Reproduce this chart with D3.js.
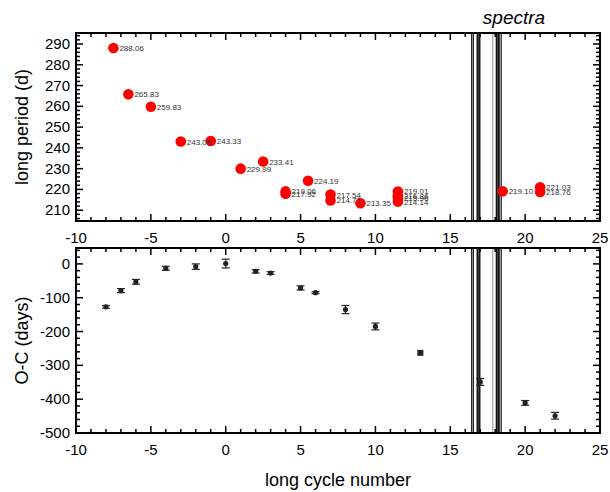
<!DOCTYPE html>
<html>
<head>
<meta charset="utf-8">
<script src="https://cdn.jsdelivr.net/npm/d3@7"></script>
<style>
  body { margin: 0; background: #fff; }
  text { font-family: "Liberation Sans", Arial, sans-serif; }
</style>
</head>
<body>
<script>
// screen size
var w = 610;
var h = 492;

// top panel: long period per cycle
var periodCycle = [-7.5, -6.5, -5, -3, -1, 1, 2.5, 4, 4, 5.5, 7, 7, 9, 11.5, 11.5, 11.5, 11.5, 18.5, 21, 21];
var periodDays  = [288.06, 265.83, 259.83, 243.06, 243.33, 229.99, 233.41, 219.06, 217.92, 224.19,
                   217.54, 214.71, 213.35, 219.01, 216.86, 215.96, 214.14, 219.10, 221.03, 218.76];

// bottom panel: O-C residuals
var ocCycle = [-8, -7, -6, -4, -2, 0, 2, 3, 5, 6, 8, 10, 13, 17, 20, 22];
var ocDays  = [-127, -79, -53, -13, -8, 1, -22, -27, -71, -85, -135, -185, -263, -349, -411, -449];
var ocErr   = [4, 6, 7, 6, 8, 13, 5, 4, 6, 3, 12, 10, 0, 10, 7, 10];

// spectra epochs (vertical lines), cycle number and line width
var spectraCycle = [16.43, 16.54, 16.82, 16.95, 17.84, 18.10, 18.24, 18.40];
var spectraWidth = [1.2, 1.2, 2, 2, 0.8, 2, 2, 1.2];

var xTicks = [-10, -5, 0, 5, 10, 15, 20, 25];
var periodTicks = [210, 220, 230, 240, 250, 260, 270, 280, 290];
var ocTicks = [0, -100, -200, -300, -400, -500];

var svg = d3.select("body").append("svg")
  .attr("width", w)
  .attr("height", h);

var left = 76, right = 600;
var x = d3.scaleLinear().domain([-10, 25]).range([left, right]);
var yTop = d3.scaleLinear().domain([204.8, 295.3]).range([221, 33]);
var yBot = d3.scaleLinear().domain([-500, 47]).range([433, 248]);

// draws ticks + frame for one panel
var drawFrame = function(y, yMajor, yMinorStep, labelY) {
  var g = svg.append("g");
  var y0 = y.range()[0], y1 = y.range()[1];
  var xMinor = d3.range(-10, 25.01, 1);
  var yd = y.domain();
  var yMinor = d3.range(Math.ceil(yd[0] / yMinorStep) * yMinorStep, yd[1], yMinorStep);

  // x ticks on bottom and top (inward)
  xMinor.forEach(function(v) {
    var major = v % 5 === 0;
    var len = major ? 7 : 4;
    g.append("line").attr("x1", x(v)).attr("x2", x(v)).attr("y1", y0).attr("y2", y0 - len);
    g.append("line").attr("x1", x(v)).attr("x2", x(v)).attr("y1", y1).attr("y2", y1 + len);
  });
  yMinor.forEach(function(v) {
    var major = yMajor.indexOf(Math.round(v)) >= 0;
    var len = major ? 7 : 4;
    g.append("line").attr("x1", left).attr("x2", left + len).attr("y1", y(v)).attr("y2", y(v));
    g.append("line").attr("x1", right).attr("x2", right - len).attr("y1", y(v)).attr("y2", y(v));
  });
  g.selectAll("line").attr("stroke", "#000").attr("stroke-width", 1.5);

  g.append("rect")
    .attr("x", left).attr("y", y1)
    .attr("width", right - left).attr("height", y0 - y1)
    .attr("fill", "none").attr("stroke", "#000").attr("stroke-width", 2);

  g.selectAll(".xl").data(xTicks).enter().append("text")
    .attr("x", function(d) { return x(d); })
    .attr("y", labelY)
    .attr("text-anchor", "middle")
    .attr("font-size", 15)
    .text(function(d) { return d; });

  g.selectAll(".yl").data(yMajor).enter().append("text")
    .attr("x", left - 6)
    .attr("y", function(d) { return y(d) + 5; })
    .attr("text-anchor", "end")
    .attr("font-size", 15)
    .text(function(d) { return d; });
};

// spectra lines, behind frame
var drawSpectra = function(y) {
  svg.append("g").selectAll("line")
    .data(spectraCycle).enter().append("line")
    .attr("x1", function(d) { return x(d); })
    .attr("x2", function(d) { return x(d); })
    .attr("y1", y.range()[0])
    .attr("y2", y.range()[1])
    .attr("stroke", function(d, i) { return spectraWidth[i] < 1 ? "#777" : "#111"; })
    .attr("stroke-width", function(d, i) { return spectraWidth[i]; });
};

drawSpectra(yTop);
drawSpectra(yBot);
drawFrame(yTop, periodTicks, 2, 243);
drawFrame(yBot, ocTicks, 20, 455);

// top panel points
var periods = periodCycle.map(function(c, i) { return {c: c, p: periodDays[i]}; });
var gp = svg.append("g");
gp.selectAll("circle").data(periods).enter().append("circle")
  .attr("cx", function(d) { return x(d.c); })
  .attr("cy", function(d) { return yTop(d.p); })
  .attr("r", 5.3)
  .attr("fill", "#ff0000");
gp.selectAll("text").data(periods).enter().append("text")
  .attr("x", function(d) { return x(d.c) + 6; })
  .attr("y", function(d) { return yTop(d.p) + 3; })
  .attr("font-size", 8)
  .attr("fill", "#333")
  .text(function(d) { return d.p.toFixed(2); });

// bottom panel points with error bars
var oc = ocCycle.map(function(c, i) { return {c: c, v: ocDays[i], e: ocErr[i]}; });
var go = svg.append("g").attr("stroke", "#222").attr("stroke-width", 1.2);
oc.forEach(function(d) {
  if (d.e > 0) {
    go.append("line").attr("x1", x(d.c)).attr("x2", x(d.c))
      .attr("y1", yBot(d.v - d.e)).attr("y2", yBot(d.v + d.e));
    [d.v - d.e, d.v + d.e].forEach(function(v) {
      go.append("line").attr("x1", x(d.c) - 4).attr("x2", x(d.c) + 4)
        .attr("y1", yBot(v)).attr("y2", yBot(v));
    });
    go.append("circle").attr("cx", x(d.c)).attr("cy", yBot(d.v)).attr("r", 2.6)
      .attr("fill", "#222").attr("stroke", "none");
  } else {
    go.append("rect").attr("x", x(d.c) - 3).attr("y", yBot(d.v) - 3)
      .attr("width", 6).attr("height", 6).attr("fill", "#222").attr("stroke", "none");
  }
});

// axis titles
svg.append("text")
  .attr("transform", "translate(28," + (33 + 221) / 2 + ") rotate(-90)")
  .attr("text-anchor", "middle")
  .attr("font-size", 18)
  .text("long period (d)");
svg.append("text")
  .attr("transform", "translate(28," + (248 + 433) / 2 + ") rotate(-90)")
  .attr("text-anchor", "middle")
  .attr("font-size", 18)
  .text("O-C (days)");
svg.append("text")
  .attr("x", (left + right) / 2)
  .attr("y", 486)
  .attr("text-anchor", "middle")
  .attr("font-size", 18)
  .text("long cycle number");
svg.append("text")
  .attr("x", 514)
  .attr("y", 24)
  .attr("text-anchor", "middle")
  .attr("font-size", 19)
  .attr("font-style", "italic")
  .text("spectra");
</script>
</body>
</html>
